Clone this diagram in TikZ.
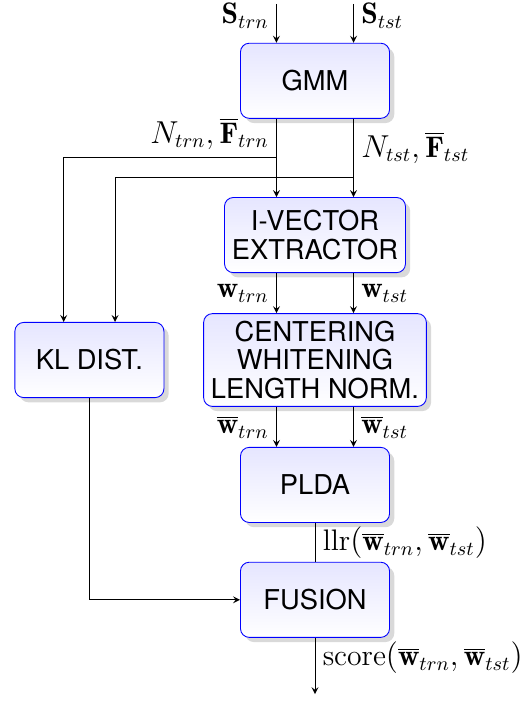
\documentclass[tikz,border=0pt]{standalone}
\usepackage{fontspec}
\setsansfont{TeX Gyre Heros}
\usetikzlibrary{positioning,shadows}

\begin{document}
\begin{tikzpicture}[
	node distance=0.64cm,
	font=\fontsize{13.5}{16}\selectfont,
	block/.style={rectangle, draw=blue, rounded corners, align=center, top color=blue!10, bottom color=white, drop shadow={opacity=0.3}, font=\sffamily\fontsize{12.4}{13}\selectfont, minimum width=2.38cm, minimum height=1.2cm},
	arrow/.style={->, >=stealth}
	]
	
	\useasboundingbox (-5.03,1.29) rectangle (3.46,-9.92);
	
	% GMM
	\node[block] (gmm) at (0,0) {GMM};
	
	% I-vector extractor
	\node[block, below=1.25cm of gmm] (ivec) {I-VECTOR \\ EXTRACTOR};
	
	% Normalization
	\node[block, below=of ivec] (norm) {CENTERING \\ WHITENING \\ LENGTH NORM.};
	
	% KL distance
	\node[block, left=0.62cm of norm] (kl) {KL DIST.};
	
	% PLDA
	\node[block, below=of norm] (plda) {PLDA};
	
	% Fusion
	\node[block, below=0.62cm of plda] (fusion) {FUSION};
	
	% Inputs
	\coordinate[above=0.62cm of gmm.north, xshift=-0.615cm] (strn);
	\coordinate[above=0.62cm of gmm.north, xshift=0.615cm] (stst);
	\draw[arrow] (strn) -- node[left, pos=0.3] {$\mathbf{S}_{trn}$} ([xshift=-0.615cm]gmm.north);
	\draw[arrow] (stst) -- node[right, pos=0.3] {$\mathbf{S}_{tst}$} ([xshift=0.615cm]gmm.north);
	
	% Statistics
	\coordinate[below=0.61cm of gmm.south, xshift=-0.615cm] (trnsplit);
	\coordinate[below=0.93cm of gmm.south, xshift=0.615cm] (tstsplit);
	\draw[arrow] ([xshift=-0.615cm]gmm.south) -- (trnsplit) node[above left] {$N_{trn}, \overline{\mathbf{F}}_{trn}$} -- ([xshift=-0.615cm]ivec.north);
	\draw[arrow] ([xshift=0.615cm]gmm.south) -- node[right] {$N_{tst}, \overline{\mathbf{F}}_{tst}$} (tstsplit) -- ([xshift=0.615cm]ivec.north);
	\draw[arrow] (trnsplit) -| ([xshift=-0.41cm]kl.north);
	\draw[arrow] (tstsplit) -| ([xshift=0.41cm]kl.north);
	
	% I-vectors
	\draw[arrow] ([xshift=-0.615cm]ivec.south) -- node[left] {$\mathbf{w}_{trn}$} ([xshift=-0.615cm]norm.north);
	\draw[arrow] ([xshift=0.615cm]ivec.south) -- node[right] {$\mathbf{w}_{tst}$} ([xshift=0.615cm]norm.north);
	\draw[arrow] ([xshift=-0.615cm]norm.south) -- node[left] {$\overline{\mathbf{w}}_{trn}$} ([xshift=-0.615cm]plda.north);
	\draw[arrow] ([xshift=0.615cm]norm.south) -- node[right] {$\overline{\mathbf{w}}_{tst}$} ([xshift=0.615cm]plda.north);
	
	% Scores
	\draw (plda) -- node[right] {$\mathrm{llr}(\overline{\mathbf{w}}_{trn}, \overline{\mathbf{w}}_{tst})$} (fusion);
	\draw[arrow] (kl) |- (fusion);
	
	% Output
	\coordinate[below=0.9cm of fusion] (out);
	\draw[arrow] (fusion) -- node[right, pos=0.35] {$\mathrm{score}(\overline{\mathbf{w}}_{trn}, \overline{\mathbf{w}}_{tst})$} (out);
	
\end{tikzpicture}
\end{document}
